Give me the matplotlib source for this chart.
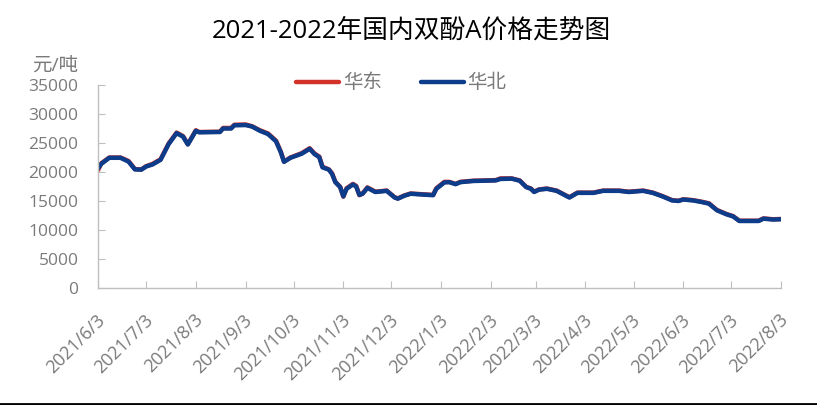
import matplotlib.pyplot as plt
from matplotlib.lines import Line2D
import pandas as pd

plt.rcParams['font.family'] = ['Open Sans', 'Noto Sans CJK SC', 'DejaVu Sans']

# price readings, yuan/ton
dates = ['2021-06-03', '2021-06-05', '2021-06-10', '2021-06-17', '2021-06-22', '2021-06-26',
         '2021-06-30', '2021-07-03', '2021-07-07', '2021-07-12', '2021-07-17', '2021-07-22',
         '2021-07-26', '2021-07-29', '2021-08-03', '2021-08-05', '2021-08-18', '2021-08-20',
         '2021-08-25', '2021-08-27', '2021-09-03', '2021-09-07', '2021-09-12', '2021-09-17',
         '2021-09-22', '2021-09-25', '2021-09-27', '2021-10-01', '2021-10-08', '2021-10-13',
         '2021-10-16', '2021-10-19', '2021-10-21', '2021-10-25', '2021-10-27', '2021-10-29',
         '2021-11-01', '2021-11-03', '2021-11-05', '2021-11-09', '2021-11-11', '2021-11-13',
         '2021-11-15', '2021-11-18', '2021-11-23', '2021-11-30', '2021-12-05', '2021-12-07',
         '2021-12-11', '2021-12-15', '2021-12-23', '2021-12-29', '2021-12-31', '2022-01-05',
         '2022-01-08', '2022-01-12', '2022-01-15', '2022-01-23', '2022-02-06', '2022-02-09',
         '2022-02-16', '2022-02-21', '2022-02-25', '2022-02-28', '2022-03-02', '2022-03-05',
         '2022-03-10', '2022-03-16', '2022-03-24', '2022-03-29', '2022-04-08', '2022-04-14',
         '2022-04-24', '2022-04-30', '2022-05-09', '2022-05-15', '2022-05-21', '2022-05-27',
         '2022-05-31', '2022-06-03', '2022-06-09', '2022-06-14', '2022-06-19', '2022-06-24',
         '2022-06-30', '2022-07-04', '2022-07-08', '2022-07-14', '2022-07-20', '2022-07-23',
         '2022-07-29', '2022-08-03']

east = [20300, 21500, 22500, 22500, 21900, 20500,
        20450, 21000, 21400, 22200, 24900, 26800,
        26200, 24800, 27200, 26900, 26950, 27600,
        27600, 28150, 28200, 27900, 27200, 26650,
        25400, 23500, 21800, 22500, 23250, 24100,
        23200, 22650, 20900, 20450, 19750, 18300,
        17450, 15750, 17200, 17950, 17600, 16000,
        16300, 17350, 16600, 16800, 15650, 15450,
        15950, 16300, 16150, 16050, 17200, 18300,
        18300, 17950, 18300, 18500, 18600, 18900,
        18900, 18550, 17450, 17150, 16600, 17000,
        17150, 16800, 15650, 16450, 16450, 16800,
        16800, 16600, 16800, 16450, 15850, 15150,
        15050, 15300, 15150, 14900, 14600, 13450,
        12750, 12400, 11600, 11600, 11600, 12000,
        11850, 11900]

north = [20600, 21400, 22450, 22450, 21800, 20450,
         20400, 20950, 21300, 22100, 24800, 26700,
         26100, 24750, 27100, 26850, 26900, 27500,
         27500, 28050, 28100, 27850, 27100, 26550,
         25300, 23400, 21750, 22450, 23150, 24000,
         23100, 22550, 20800, 20400, 19650, 18250,
         17400, 15800, 17100, 17850, 17500, 16050,
         16250, 17250, 16550, 16750, 15600, 15400,
         15900, 16250, 16100, 16000, 17100, 18200,
         18250, 17900, 18250, 18450, 18550, 18800,
         18850, 18500, 17400, 17100, 16550, 16950,
         17100, 16750, 15600, 16400, 16400, 16750,
         16750, 16550, 16750, 16400, 15800, 15100,
         15000, 15250, 15100, 14850, 14550, 13400,
         12700, 12350, 11550, 11550, 11550, 11950,
         11800, 11850]

x = pd.to_datetime(dates)
tick_dates = pd.date_range('2021-06-01', '2022-08-01', freq='MS') + pd.Timedelta(days=2)

grey = '#7a7a7a'
fig = plt.figure(figsize=(8.17, 4.05), dpi=100)
ax = fig.add_axes([0.12, 0.289, 0.836, 0.501])

ax.plot(x, east, color='#d2322a', lw=3.2, label='华东', solid_capstyle='round')
ax.plot(x, north, color='#0d3c8a', lw=3.2, label='华北', solid_capstyle='round')

ax.set_xlim(tick_dates[0], tick_dates[-1])
ax.set_ylim(0, 35000)
ax.set_yticks(range(0, 35001, 5000))
ax.set_xticks(tick_dates)
ax.set_xticklabels([])
# slanted date labels, placed by hand under each tick
for d in tick_dates:
    ax.annotate(f'{d.year}/{d.month}/{d.day}', xy=(d, 0),
                xycoords=('data', 'axes fraction'), xytext=(3, -21),
                textcoords='offset points', rotation=45, rotation_mode='anchor',
                ha='right', va='center', fontsize=13, color=grey)

for s in ['top', 'right']:
    ax.spines[s].set_visible(False)
for s in ['left', 'bottom']:
    ax.spines[s].set_color('#bfbfbf')
    ax.spines[s].set_linewidth(1)
ax.tick_params(axis='both', direction='in', length=5, color='#bfbfbf',
               labelcolor=grey, labelsize=12.5)
ax.tick_params(axis='y', pad=14)

fig.text(0.504, 0.923, '2021-2022年国内双酚A价格走势图', ha='center', va='center',
         fontsize=18.5, color='black')
fig.text(0.096, 0.837, '元/吨', ha='right', va='center', fontsize=14, color=grey)

leg = ax.legend(loc='center', bbox_to_anchor=(0.444, 1.01), ncol=2, frameon=False,
                fontsize=14, handlelength=2.2, columnspacing=2.0, handletextpad=0.2)
for t in leg.get_texts():
    t.set_color(grey)

fig.add_artist(Line2D([0, 1], [0.003, 0.003], color='black', lw=2,
                      transform=fig.transFigure))

fig.savefig('out.png', dpi=100)
